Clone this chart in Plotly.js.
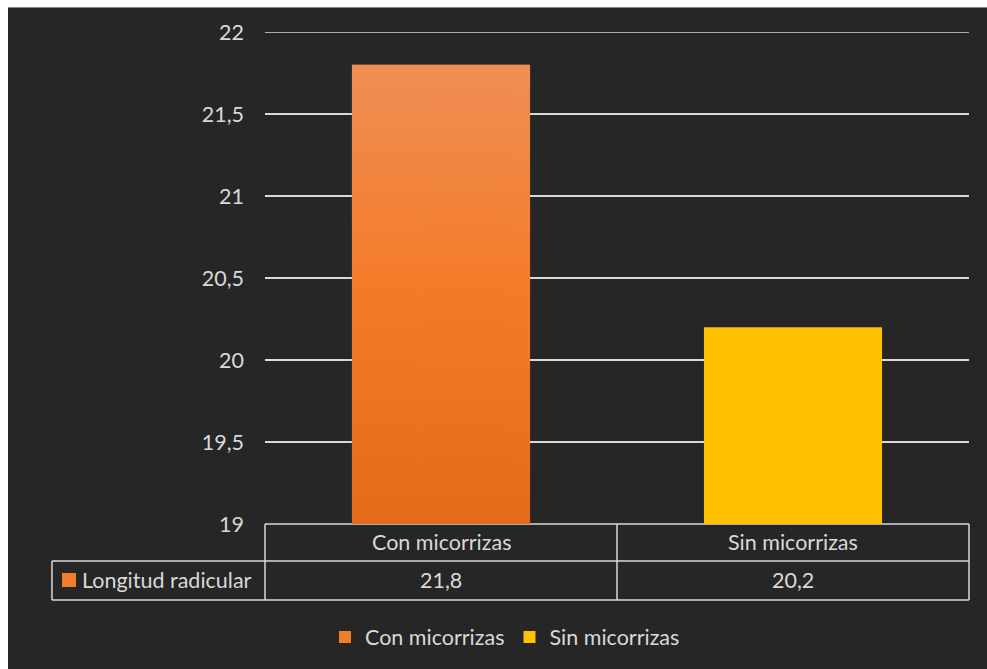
<!DOCTYPE html>
<html>
<head>
<meta charset="utf-8">
<script src="https://cdn.plot.ly/plotly-3.0.1.min.js"></script>
<style>
  html, body { margin: 0; padding: 0; background: #ffffff; }
  #chart { position: absolute; left: 8px; top: 7px; width: 979px; height: 662px; border-top: 1px solid #8a8a8a; box-sizing: border-box; }
</style>
</head>
<body>
<div id="chart"></div>
<script>
// ---- data ----
const categories = ['Con micorrizas', 'Sin micorrizas'];
const values = [21.8, 20.2];
const seriesName = 'Longitud radicular';
const yTickVals = [19, 19.5, 20, 20.5, 21, 21.5, 22];

const barColors = ['#F07D2A', '#FFC000'];
const textColor = '#d9d9d9';
const lineColor = '#d9d9d9';
const fontFamily = 'Lato, "Open Sans", sans-serif';
const fs = 21.5;
const barWidth = 0.506;
const yMin = Math.min(...yTickVals), yMax = Math.max(...yTickVals);

// gradient image (pixels only; placed through the axes)
function gradientURL(stops) {
  const cv = document.createElement('canvas');
  cv.width = 4; cv.height = 256;
  const ctx = cv.getContext('2d');
  const g = ctx.createLinearGradient(0, 0, 0, 256);
  stops.forEach(([o, c]) => g.addColorStop(o, c));
  ctx.fillStyle = g;
  ctx.fillRect(0, 0, 4, 256);
  return cv.toDataURL('image/png');
}
const orangeGrad = gradientURL([[0, '#EF8E55'], [0.45, '#F47D2C'], [1, '#E46B19']]);

const traces = categories.map((c, i) => ({
  type: 'bar',
  name: c,
  x: [c],
  y: [values[i]],
  width: barWidth,
  marker: { color: barColors[i], line: { width: 0 } },
  hoverinfo: 'x+y'
}));

function fmt(v) { return String(v).replace('.', ','); }

// table geometry (paper coords)
const row1Mid = -0.0376, row2Top = -0.0752, row2Bot = -0.1545, row2Mid = -0.1148;
const labelLeft = -0.3026;

const shapes = [
  { type: 'line', xref: 'paper', yref: 'y', x0: 0, x1: 1, y0: yMax, y1: yMax },
  { type: 'line', xref: 'paper', yref: 'paper', x0: 0, x1: 1, y0: 0, y1: 0 },
  { type: 'line', xref: 'paper', yref: 'paper', x0: labelLeft, x1: 1, y0: row2Top, y1: row2Top },
  { type: 'line', xref: 'paper', yref: 'paper', x0: labelLeft, x1: 1, y0: row2Bot, y1: row2Bot },
  { type: 'line', xref: 'paper', yref: 'paper', x0: 0, x1: 0, y0: 0, y1: row2Bot },
  { type: 'line', xref: 'paper', yref: 'paper', x0: 0.5, x1: 0.5, y0: 0, y1: row2Bot },
  { type: 'line', xref: 'paper', yref: 'paper', x0: 1, x1: 1, y0: 0, y1: row2Bot },
  { type: 'line', xref: 'paper', yref: 'paper', x0: labelLeft, x1: labelLeft, y0: row2Top, y1: row2Bot }
].map(s => Object.assign(s, { layer: 'below', line: { color: lineColor, width: 1.5 } }));

// legend key square in table
shapes.push({ type: 'rect', xref: 'paper', yref: 'paper',
  x0: (62 - 265) / 704, x1: (76 - 265) / 704, y0: (523 - 572) / 492, y1: (523 - 586) / 492,
  fillcolor: barColors[0], line: { width: 0 } });

const annotations = [];
categories.forEach((c, i) => {
  annotations.push({ xref: 'x', yref: 'paper', x: c, y: row1Mid, text: c, showarrow: false,
    xanchor: 'center', yanchor: 'middle', font: { family: fontFamily, size: fs, color: textColor } });
  annotations.push({ xref: 'x', yref: 'paper', x: c, y: row2Mid, text: fmt(values[i]), showarrow: false,
    xanchor: 'center', yanchor: 'middle', font: { family: fontFamily, size: fs, color: textColor } });
});
annotations.push({ xref: 'paper', yref: 'paper', x: (80 - 265) / 704, y: row2Mid, text: seriesName, showarrow: false,
  xanchor: 'left', yanchor: 'middle', font: { family: fontFamily, size: fs, color: textColor } });

// gradient overlay on the first bar, placed with the axes from the data
const images = [{
  source: orangeGrad, xref: 'x', yref: 'y',
  x: categories[0], y: values[0], sizex: barWidth, sizey: values[0] - yMin,
  xanchor: 'center', yanchor: 'top', sizing: 'stretch', layer: 'above'
}];

const layout = {
  width: 979, height: 662,
  margin: { l: 257, r: 18, t: 24, b: 146, pad: 0 },
  paper_bgcolor: '#262626',
  plot_bgcolor: '#262626',
  separators: ',.',
  barmode: 'overlay',
  showlegend: true,
  legend: { orientation: 'h', x: (505 - 265) / 704, xanchor: 'center', y: (523 - 636) / 492, yanchor: 'middle',
    font: { family: fontFamily, size: fs, color: textColor }, bgcolor: 'rgba(0,0,0,0)' },
  xaxis: { type: 'category', showticklabels: false, showgrid: false, zeroline: false, showline: false, ticks: '', fixedrange: true },
  yaxis: { range: [yMin, yMax], tickvals: yTickVals, showgrid: true, gridcolor: lineColor, gridwidth: 1.5,
    zeroline: false, showline: false, ticks: '', ticklabelstandoff: 20,
    tickfont: { family: fontFamily, size: fs, color: textColor }, fixedrange: true },
  shapes: shapes,
  annotations: annotations,
  images: images,
  font: { family: fontFamily, color: textColor }
};

Plotly.newPlot('chart', traces, layout, { displayModeBar: false, staticPlot: true });
</script>
</body>
</html>
